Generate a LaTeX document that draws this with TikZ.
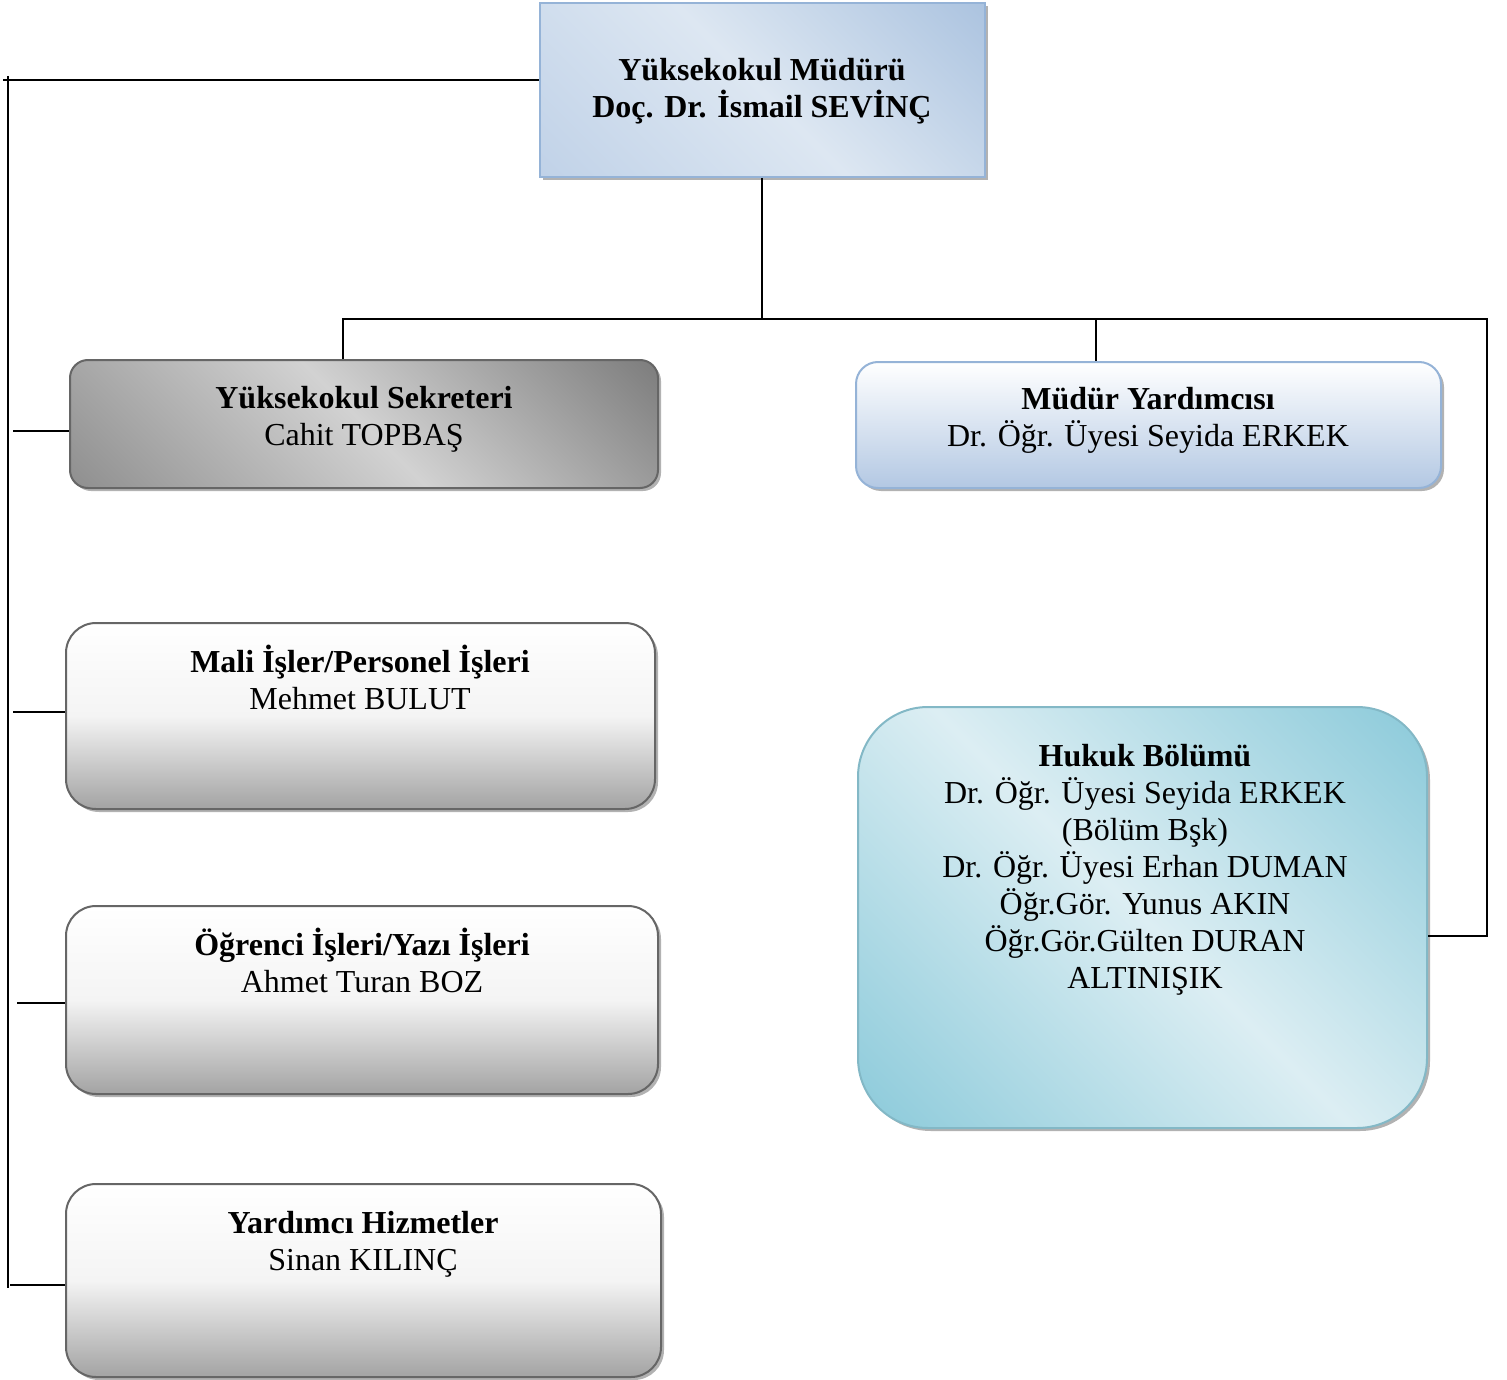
\documentclass[tikz,border=0pt]{standalone}
\usepackage{fontspec}
\setmainfont{Liberation Serif}
\usetikzlibrary{shadows}
\definecolor{bluedark}{HTML}{95B3D7}
\definecolor{bluelight}{HTML}{DDE7F2}
\definecolor{bluemid}{HTML}{B3C8E3}
\definecolor{cyandark}{HTML}{92CDDC}
\definecolor{cyanlight}{HTML}{DCEEF3}
\definecolor{graydark}{HTML}{666666}
\definecolor{graylight}{HTML}{D2D2D2}
\definecolor{grayedge}{HTML}{666666}
\definecolor{graybot}{HTML}{A3A3A3}
\begin{document}
\begin{tikzpicture}[x=1pt,y=-1pt,
  conn/.style={draw=black, line width=1.6pt},
  shad/.style={drop shadow={shadow xshift=3pt, shadow yshift=-3pt, fill=black!30, opacity=1}},
  diagshade/.style n args={3}{fill=#2, path picture={
     \shade[sharp corners, top color=#1, bottom color=#3, middle color=#2, shading angle=-45]
       ([shift={(-320pt,-320pt)}]path picture bounding box.center) rectangle
       ([shift={(320pt,320pt)}]path picture bounding box.center);}},
  txt/.style={align=center, inner sep=0pt, font=\fontsize{32}{37}\selectfont},
  topbox/.style={shad, draw=bluedark, line width=2pt, minimum width=445pt, minimum height=174pt,
     diagshade={bluedark}{bluelight}{bluemid}},
  sekbox/.style={shad, draw=grayedge, line width=2pt, rounded corners=18pt, minimum width=588pt, minimum height=128pt,
     diagshade={graydark}{graylight}{graydark!85!white}},
  graybox/.style={shad, draw=grayedge, line width=2pt, rounded corners=30pt,
     top color=white, bottom color=graybot, middle color=white!88!graybot},
  myrbox/.style={shad, draw=bluedark, line width=2pt, rounded corners=22pt, minimum width=585pt, minimum height=126pt,
     top color=white, bottom color=bluemid},
  hukbox/.style={shad, draw=cyandark!90!black, line width=2pt, rounded corners=70pt, minimum width=569pt, minimum height=421pt,
     diagshade={cyandark}{cyanlight}{cyandark}}
]
\useasboundingbox (0,0) rectangle (1507,1380);

% boxes
\node[topbox] (top) at (762,90) {};
\node[sekbox] (sek) at (364,424) {};
\node[myrbox] (myr) at (1148.5,425) {};
\node[graybox, minimum width=589pt, minimum height=186pt] (mali) at (360.5,716) {};
\node[graybox, minimum width=592pt, minimum height=188pt] (ogr) at (362,1000) {};
\node[graybox, minimum width=595pt, minimum height=193pt] (yard) at (363.5,1280.5) {};
\node[hukbox] (huk) at (1142.5,917.5) {};

% texts
\node[txt] (toptxt) at (762,91) {\textbf{Yüksekokul Müdürü}\\\textbf{Doç. Dr. İsmail SEVİNÇ}};
\node[txt] (sektxt) at (364,419) {\textbf{Yüksekokul Sekreteri}\\Cahit TOPBAŞ};
\node[txt] (myrtxt) at (1148,420) {\textbf{Müdür Yardımcısı}\\Dr. Öğr. Üyesi Seyida ERKEK};
\node[txt] (malitxt) at (360,677) {\textbf{Mali İşler/Personel İşleri}\\Mehmet BULUT};
\node[txt] (ogrtxt) at (362,960) {\textbf{Öğrenci İşleri/Yazı İşleri}\\Ahmet Turan BOZ};
\node[txt] (yardtxt) at (363,1244) {\textbf{Yardımcı Hizmetler}\\Sinan KILINÇ};
\node[txt] (huktxt) at (1145,870) {\textbf{Hukuk Bölümü}\\Dr. Öğr. Üyesi Seyida ERKEK\\(Bölüm Bşk)\\Dr. Öğr. Üyesi Erhan DUMAN\\Öğr.Gör. Yunus AKIN\\Öğr.Gör.Gülten DURAN\\ALTINIŞIK};

% connectors
\coordinate (trunktop) at (8,76);
\coordinate (trunkbot) at (8,1288);
\coordinate (hbar) at (762,319);
\coordinate (hbarL) at (343,319);
\coordinate (hbarR) at (1487,319);
\draw[conn] ([yshift=10pt]top.west) -- (3,80);
\draw[conn] (trunktop) -- (trunkbot);
\draw[conn] (13,431) -- (sek.west |- 0,431);
\draw[conn] (13,712) -- (mali.west |- 0,712);
\draw[conn] (17,1003) -- (ogr.west |- 0,1003);
\draw[conn] (10,1285) -- (yard.west |- 0,1285);
\draw[conn] (top.south) -- (hbar);
\draw[conn] (sek.north -| hbarL) -- (hbarL) -- (hbarR) -- (1487,936) -- (huk.east |- 0,936);
\draw[conn] (1096,319) -- (myr.north -| 1096,0);
\end{tikzpicture}
\end{document}
